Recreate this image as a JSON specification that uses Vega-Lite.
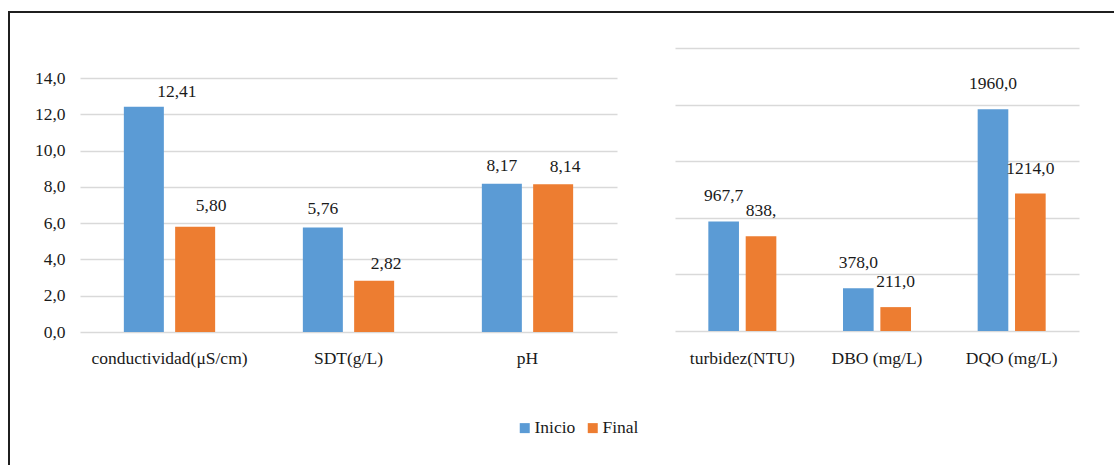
{
  "$schema": "https://vega.github.io/schema/vega-lite/v6.json",
  "autosize": "none",
  "width": 1110,
  "height": 458,
  "padding": {"left": 9, "top": 12, "right": -5, "bottom": -5},
  "background": "white",
  "config": {
    "view": {"stroke": "#1f1f1f", "strokeWidth": 2},
    "font": "'Liberation Serif', Tinos, 'Times New Roman', serif",
    "axis": {
      "labelFont": "'Liberation Serif', Tinos, 'Times New Roman', serif",
      "labelFontSize": 17.5,
      "labelColor": "#1a1a1a",
      "gridColor": "#d9d9d9",
      "gridWidth": 1.3,
      "domain": false,
      "ticks": false,
      "tickSize": 0,
      "title": null
    },
    "text": {"font": "'Liberation Serif', Tinos, 'Times New Roman', serif", "fontSize": 17.5, "color": "#1a1a1a"}
  },
  "layer": [
    {
      "data": {
        "values": [
          {"parametro": "conductividad(μS/cm)", "serie": "Inicio", "valor": 12.41, "label": "12,41"},
          {"parametro": "conductividad(μS/cm)", "serie": "Final", "valor": 5.80, "label": "5,80"},
          {"parametro": "SDT(g/L)", "serie": "Inicio", "valor": 5.76, "label": "5,76"},
          {"parametro": "SDT(g/L)", "serie": "Final", "valor": 2.82, "label": "2,82"},
          {"parametro": "pH", "serie": "Inicio", "valor": 8.17, "label": "8,17"},
          {"parametro": "pH", "serie": "Final", "valor": 8.14, "label": "8,14"}
        ]
      },
      "encoding": {
        "x": {
          "field": "parametro",
          "type": "nominal",
          "sort": ["conductividad(μS/cm)", "SDT(g/L)", "pH"],
          "scale": {"range": [71, 608], "paddingInner": 0.49, "paddingOuter": 0.245},
          "axis": {"orient": "bottom", "offset": -138, "labelPadding": 26, "labelBaseline": "middle", "labelAngle": 0, "labelOverlap": false, "labelLimit": 400, "title": null}
        },
        "xOffset": {
          "field": "serie",
          "type": "nominal",
          "sort": ["Inicio", "Final"],
          "scale": {"paddingInner": 0.22, "paddingOuter": 0}
        },
        "y": {
          "field": "valor",
          "type": "quantitative",
          "scale": {"domain": [0, 14], "range": [320, 66], "nice": false},
          "axis": {
            "orient": "left",
            "offset": -71,
            "values": [0, 2, 4, 6, 8, 10, 12, 14],
            "labelExpr": "replace(format(datum.value, '.1f'), '.', ',')",
            "labelPadding": 15,
            "grid": true,
            "title": null
          }
        }
      },
      "layer": [
        {
          "mark": {"type": "bar"},
          "encoding": {
            "color": {
              "field": "serie",
              "type": "nominal",
              "sort": ["Inicio", "Final"],
              "scale": {"domain": ["Inicio", "Final"], "range": ["#5B9BD5", "#ED7D31"]},
              "legend": {
                "orient": "none",
                "legendX": 507,
                "legendY": 407,
                "direction": "horizontal",
                "title": null,
                "symbolType": "square",
                "symbolSize": 100,
                "symbolStrokeWidth": 0,
                "labelFont": "'Liberation Serif', Tinos, 'Times New Roman', serif",
                "labelFontSize": 17.5,
                "labelColor": "#1a1a1a",
                "labelOffset": 1,
                "columnPadding": 8,
                "padding": 0
              }
            }
          }
        },
        {
          "transform": [{"filter": {"field": "label", "oneOf": ["12,41"]}}],
          "mark": {"type": "text", "dx": 33, "dy": -15},
          "encoding": {"text": {"field": "label", "type": "nominal"}}
        },
        {
          "transform": [{"filter": {"field": "label", "oneOf": ["5,80"]}}],
          "mark": {"type": "text", "dx": 16, "dy": -21},
          "encoding": {"text": {"field": "label", "type": "nominal"}}
        },
        {
          "transform": [{"filter": {"field": "label", "oneOf": ["2,82", "8,14"]}}],
          "mark": {"type": "text", "dx": 12, "dy": -17},
          "encoding": {"text": {"field": "label", "type": "nominal"}}
        },
        {
          "transform": [{"filter": {"field": "label", "oneOf": ["5,76", "8,17"]}}],
          "mark": {"type": "text", "dx": 0, "dy": -18},
          "encoding": {"text": {"field": "label", "type": "nominal"}}
        }
      ]
    },
    {
      "data": {
        "values": [
          {"parametro": "turbidez(NTU)", "serie": "Inicio", "valor": 967.7, "label": "967,7"},
          {"parametro": "turbidez(NTU)", "serie": "Final", "valor": 838, "label": "838,"},
          {"parametro": "DBO (mg/L)", "serie": "Inicio", "valor": 378, "label": "378,0"},
          {"parametro": "DBO (mg/L)", "serie": "Final", "valor": 211, "label": "211,0"},
          {"parametro": "DQO (mg/L)", "serie": "Inicio", "valor": 1960, "label": "1960,0"},
          {"parametro": "DQO (mg/L)", "serie": "Final", "valor": 1214, "label": "1214,0"}
        ]
      },
      "encoding": {
        "x": {
          "field": "parametro",
          "type": "nominal",
          "sort": ["turbidez(NTU)", "DBO (mg/L)", "DQO (mg/L)"],
          "scale": {"range": [666, 1070], "paddingInner": 0.495, "paddingOuter": 0.2475},
          "axis": {"orient": "bottom", "offset": -138, "labelPadding": 26, "labelBaseline": "middle", "labelAngle": 0, "labelOverlap": false, "labelLimit": 400, "title": null}
        },
        "xOffset": {
          "field": "serie",
          "type": "nominal",
          "sort": ["Inicio", "Final"],
          "scale": {"paddingInner": 0.18, "paddingOuter": 0}
        },
        "y": {
          "field": "valor",
          "type": "quantitative",
          "scale": {"domain": [0, 2500], "range": [319, 36], "nice": false},
          "axis": {
            "orient": "left",
            "values": [0, 500, 1000, 1500, 2000, 2500],
            "labels": false,
            "grid": true,
            "title": null
          }
        }
      },
      "layer": [
        {
          "mark": {"type": "bar"},
          "encoding": {
            "color": {
              "field": "serie",
              "type": "nominal",
              "sort": ["Inicio", "Final"],
              "scale": {"domain": ["Inicio", "Final"], "range": ["#5B9BD5", "#ED7D31"]}
            }
          }
        },
        {
          "mark": {"type": "text", "dx": 0, "dy": -25},
          "encoding": {"text": {"field": "label", "type": "nominal"}}
        }
      ]
    }
  ],
  "resolve": {
    "scale": {"x": "independent", "y": "independent", "xOffset": "independent"},
    "axis": {"x": "independent", "y": "independent"}
  }
}
